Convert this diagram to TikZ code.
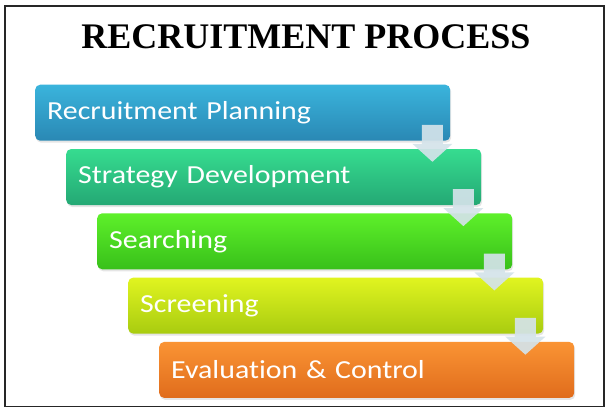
\documentclass[tikz,border=0pt]{standalone}
\usepackage{fontspec}
\usetikzlibrary{calc,shadows}
\newfontfamily\carlito[FakeStretch=1.15, Ligatures=NoCommon]{Carlito}
\newfontfamily\titlefont{Liberation Serif}

\definecolor{planA}{HTML}{3AB4DC}
\definecolor{planB}{HTML}{2A88B4}
\definecolor{stratA}{HTML}{36DC90}
\definecolor{stratB}{HTML}{24A874}
\definecolor{searchA}{HTML}{5EF02A}
\definecolor{searchB}{HTML}{38C01A}
\definecolor{screenA}{HTML}{E0F420}
\definecolor{screenB}{HTML}{A8CC10}
\definecolor{evalA}{HTML}{FA9434}
\definecolor{evalB}{HTML}{E06C1C}
\definecolor{arrowcol}{HTML}{D4E3EA}

\tikzset{
  stage/.style={rectangle, rounded corners=5pt, anchor=north west,
    minimum width=415pt, minimum height=56pt, text width=391pt,
    inner xsep=12pt, align=left, text=white,
    font=\carlito\fontsize{26}{30}\selectfont,
    drop shadow={opacity=0.2, shadow xshift=1pt, shadow yshift=-2pt}},
  downarrow/.style={fill=arrowcol, fill opacity=0.92}
}

\begin{document}
\begin{tikzpicture}[x=1pt, y=-1pt]
		\useasboundingbox (0, 0) rectangle (611, 408);
		\fill[white] (0, 0) rectangle (611, 408);
		\draw[line width=1.5pt, black!85] (5, 6) rectangle (604, 406.5);

		\node[font=\titlefont\bfseries\fontsize{36}{40}\selectfont] (title) at (306, 37) {RECRUITMENT PROCESS};

		\foreach \i/\txt/\ca/\cb in {1/Recruitment Planning/planA/planB, 2/Strategy Development/stratA/stratB,
				3/Searching/searchA/searchB, 4/Screening/screenA/screenB, 5/Evaluation \& Control/evalA/evalB} {
			\node[stage, top color=\ca, bottom color=\cb] (b\i) at ({35+31*(\i-1)}, {84.5+64.3*(\i-1)}) {\txt};
		}

		\foreach \a/\b in {b1/b2, b2/b3, b3/b4, b4/b5} {
			\coordinate (t) at ($(\a.south east)+(-18, -16)$);
			\fill[downarrow] ($(t)+(-10.5, 0)$) -- ($(t)+(10.5, 0)$) -- ($(t |- \b.north)+(10.5, -5)$)
				-- ($(t |- \b.north)+(20, -5)$) -- ($(t |- \b.north)+(0, 13)$)
				-- ($(t |- \b.north)+(-20, -5)$) -- ($(t |- \b.north)+(-10.5, -5)$) -- cycle;
		}
	\end{tikzpicture}
\end{document}
